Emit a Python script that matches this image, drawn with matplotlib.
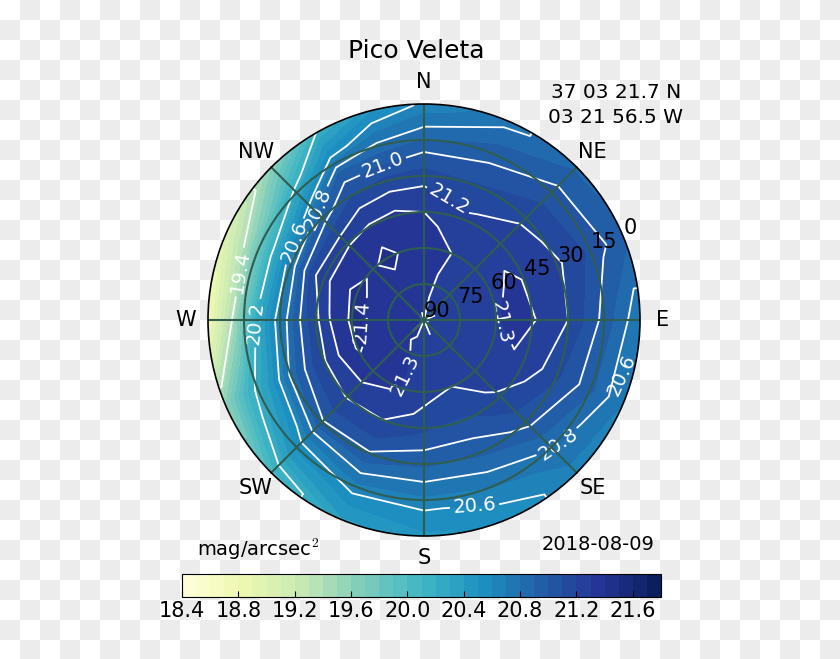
import numpy as np
import matplotlib
matplotlib.use('Agg')
import matplotlib.pyplot as plt
from matplotlib.colors import ListedColormap
from matplotlib.patches import Circle

plt.rcParams['mathtext.fontset'] = 'cm'

azimuths = [0, 22.5, 45, 67.5, 90, 112.5, 135, 157.5, 180, 202.5, 225, 247.5, 270, 292.5, 315, 330, 345]
altitudes = [0, 10, 20, 30, 40, 50, 60, 70, 80, 90]

# one row per azimuth, one column per altitude (mag/arcsec2)
brightness = [
    [20.63, 20.81, 21.00, 21.15, 21.27, 21.33, 21.36, 21.36, 21.34, 21.32],
    [20.76, 20.89, 21.01, 21.11, 21.19, 21.25, 21.30, 21.28, 21.27, 21.27],
    [20.88, 20.99, 21.09, 21.18, 21.24, 21.27, 21.28, 21.28, 21.28, 21.29],
    [20.93, 21.02, 21.13, 21.22, 21.27, 21.32, 21.27, 21.26, 21.27, 21.33],
    [20.72, 20.88, 21.05, 21.20, 21.28, 21.34, 21.29, 21.25, 21.26, 21.27],
    [20.70, 20.85, 21.00, 21.12, 21.24, 21.29, 21.24, 21.23, 21.26, 21.31],
    [20.66, 20.75, 20.88, 21.04, 21.14, 21.22, 21.24, 21.24, 21.27, 21.28],
    [20.53, 20.63, 20.78, 20.92, 21.04, 21.13, 21.20, 21.24, 21.28, 21.34],
    [20.48, 20.59, 20.76, 20.92, 21.06, 21.18, 21.23, 21.26, 21.28, 21.29],
    [20.38, 20.56, 20.78, 20.99, 21.15, 21.25, 21.31, 21.31, 21.29, 21.33],
    [20.05, 20.39, 20.66, 20.99, 21.15, 21.27, 21.36, 21.34, 21.31, 21.28],
    [19.55, 20.08, 20.40, 20.83, 21.10, 21.28, 21.41, 21.37, 21.33, 21.33],
    [18.75, 19.40, 20.22, 20.70, 21.06, 21.29, 21.42, 21.37, 21.33, 21.31],
    [19.00, 19.45, 20.15, 20.72, 21.18, 21.34, 21.43, 21.36, 21.34, 21.34],
    [19.60, 20.05, 20.50, 20.95, 21.19, 21.37, 21.38, 21.36, 21.33, 21.29],
    [20.20, 20.52, 20.94, 21.10, 21.26, 21.36, 21.44, 21.37, 21.34, 21.33],
    [20.47, 20.72, 20.94, 21.13, 21.28, 21.35, 21.37, 21.36, 21.34, 21.28],
]

line_levels = [19.4, 20.2, 20.6, 20.8, 21.0, 21.2, 21.3, 21.4]
colorbar_ticks = [18.4, 18.8, 19.2, 19.6, 20.0, 20.4, 20.8, 21.2, 21.6]
direction_angles = [0, 45, 90, 135, 180, 225, 270, 315]
direction_names = ['N', 'NE', 'E', 'SE', 'S', 'SW', 'W', 'NW']
ring_altitudes = [0, 15, 30, 45, 60, 75, 90]

# (azimuth, altitude) of the contour labels
label_spots = [(284.6, 10.8), (269, 20.8), (301, 25.4), (317, 27.9), (345, 23), (12, 37.5),
               (268, 63.8), (205, 66), (94, 60.4), (132.7, 15.8), (164.6, 11.2)]


def sky_xy(az, alt):
    # north up, east right, zenith in the middle
    zen = 90 - np.asarray(alt, dtype=float)
    return zen * np.sin(np.radians(az)), zen * np.cos(np.radians(az))


fig = plt.figure(figsize=(8.4, 6.59), dpi=100)

# transparency checkerboard baked into the picture
bg = fig.add_axes([0, 0, 1, 1])
rows, cols = np.indices((33, 42))
bg.imshow((rows + cols) % 2, cmap=ListedColormap(['white', '#ececec']),
          extent=(0, 840, 660, 0), aspect='auto', interpolation='nearest')
bg.set_xlim(0, 840)
bg.set_ylim(659, 0)
bg.axis('off')

ax = fig.add_axes([208 / 840, 123 / 659, 432 / 840, 432 / 659])
ax.set_xlim(-90, 90)
ax.set_ylim(-90, 90)
ax.axis('off')

# close the circle, and carry the horizon values a bit past the rim so the
# polygon of the grid does not leave gaps inside the clip circle
values = np.array(brightness + [brightness[0]])
values = np.column_stack([values[:, 0], values])
az_grid, alt_grid = np.meshgrid(azimuths + [360], [-6] + altitudes, indexing='ij')
x, y = sky_xy(az_grid, alt_grid)

rim = Circle((0, 0), 90, transform=ax.transData)
cf = ax.contourf(x, y, values, levels=np.arange(18.4, 21.85, 0.1), cmap='YlGnBu')
cl = ax.contour(x, y, values, levels=line_levels, colors='white', linewidths=1.3)
spots = [tuple(sky_xy(a, b)) for a, b in label_spots]
ax.clabel(cl, fontsize=14, fmt='%.1f', manual=spots, inline=True, inline_spacing=3)
cf.set_clip_path(rim)
cl.set_clip_path(rim)
ax.set_xlim(-90, 90)
ax.set_ylim(-90, 90)
tx, ty = sky_xy(105.5, 4.6)
ax.text(tx, ty, '20.6', color='white', fontsize=14, rotation=65, ha='center', va='center')

# sky grid
grid_color = '#2f5d50'
for alt in ring_altitudes[1:-1]:
    ax.add_patch(Circle((0, 0), 90 - alt, fill=False, edgecolor=grid_color, linewidth=1.5, zorder=4))
for az, name in zip(direction_angles, direction_names):
    ex, ey = sky_xy(az, 0)
    ax.plot([0, ex], [0, ey], color=grid_color, linewidth=1.5, zorder=4)
    lx, ly = sky_xy(az, -9.2)
    ax.text(lx, ly, name, fontsize=15, ha='center', va='center', clip_on=False)
ax.add_patch(Circle((0, 0), 90, fill=False, edgecolor='black', linewidth=1.2, zorder=5, clip_on=False))

for alt in ring_altitudes:
    rx, ry = sky_xy(67.5, alt)
    ax.annotate(str(alt), xy=(rx, ry), xytext=(0, -0.5), textcoords='offset points',
                ha='left', va='bottom', fontsize=15, annotation_clip=False, zorder=6)

fig.text(416 / 840, 1 - 51 / 659, 'Pico Veleta', fontsize=18, ha='center', va='center')
fig.text(616 / 840, 1 - 92.5 / 659, '37 03 21.7 N', fontsize=14.5, ha='center', va='center')
fig.text(615 / 840, 1 - 117.5 / 659, '03 21 56.5 W', fontsize=14.5, ha='center', va='center')
fig.text(258 / 840, 1 - 549 / 659, r'mag/arcsec$^2$', fontsize=14, ha='center', va='center')
fig.text(598 / 840, 1 - 544 / 659, '2018-08-09', fontsize=14, ha='center', va='center')

cax = fig.add_axes([182 / 840, 62 / 659, 479 / 840, 23 / 659])
cbar = fig.colorbar(cf, cax=cax, orientation='horizontal', ticks=colorbar_ticks, format='%.1f')
cbar.ax.tick_params(direction='in', length=4, labelsize=15, top=False, pad=3)

fig.savefig('out.png', dpi=100)
